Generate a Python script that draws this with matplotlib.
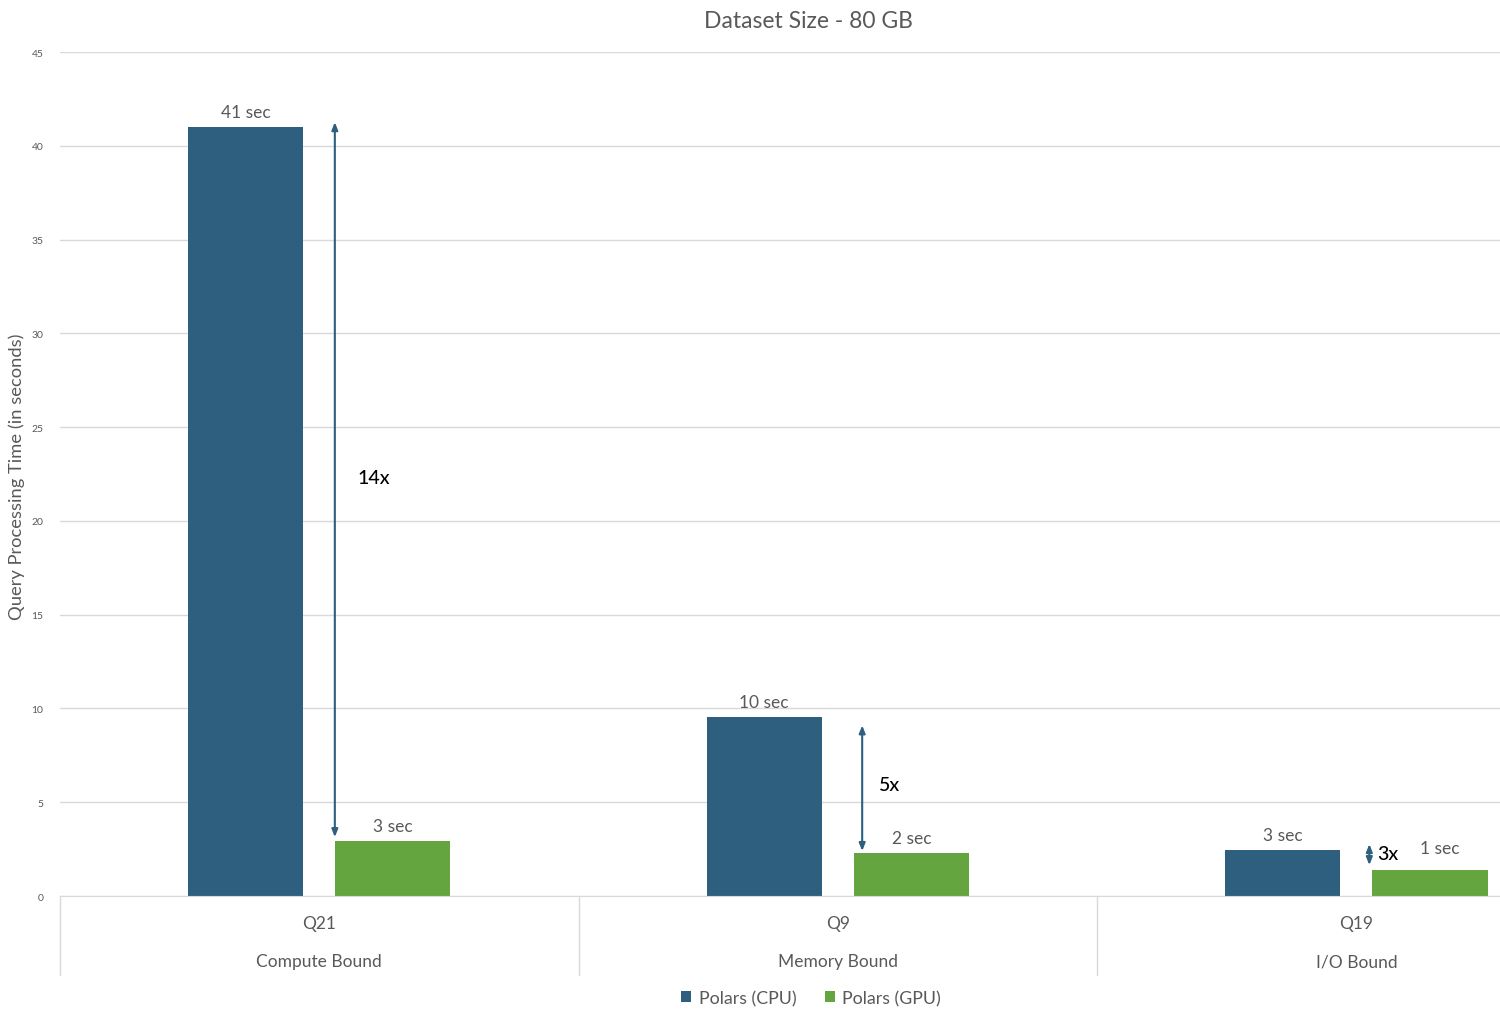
import matplotlib
matplotlib.use("Agg")
import matplotlib.pyplot as plt
import matplotlib.transforms as mtransforms
import numpy as np

plt.rcParams['font.family'] = ['Lato', 'DejaVu Sans']

queries = ["Q21", "Q9", "Q19"]
bound_types = ["Compute Bound", "Memory Bound", "I/O Bound"]
series_names = ["Polars (CPU)", "Polars (GPU)"]
cpu_times = [41, 9.55, 2.45]
gpu_times = [2.95, 2.3, 1.4]
cpu_labels = ["41 sec", "10 sec", "3 sec"]
gpu_labels = ["3 sec", "2 sec", "1 sec"]
speedups = ["14x", "5x", "3x"]
y_ticks = [0, 5, 10, 15, 20, 25, 30, 35, 40, 45]

CPU_COLOR = "#2E5F7E"
GPU_COLOR = "#64A540"
TEXT = "#595959"
GRID = "#D9D9D9"

fig = plt.figure(figsize=(15, 10.12), dpi=100)
ax = fig.add_axes([0.04, 0.1136, 0.96, 0.834])

x = np.arange(len(queries))
off = 0.142
w = 0.222
b1 = ax.bar(x - off, cpu_times, w, color=CPU_COLOR, label=series_names[0], zorder=3)
b2 = ax.bar(x + off, gpu_times, w, color=GPU_COLOR, label=series_names[1], zorder=3)

ax.set_xlim(-0.5, 2.277)
ax.set_ylim(0, 45)
ax.set_yticks(y_ticks)
ax.set_yticklabels([str(t) for t in y_ticks], fontsize=7.5, color=TEXT)
ax.tick_params(axis='y', length=0, pad=12)
ax.set_xticks([])
ax.yaxis.grid(True, color=GRID, lw=1, zorder=0)
for s in ["top", "right", "left"]:
    ax.spines[s].set_visible(False)
ax.spines["bottom"].set_color(GRID)
ax.spines["bottom"].set_zorder(4)

# category separators and labels
trans = mtransforms.blended_transform_factory(ax.transData, ax.transAxes)
for i in range(len(queries)):
    ax.plot([i - 0.5, i - 0.5], [0, -0.0936], transform=trans, color=GRID, lw=1, clip_on=False)
    ax.text(i, -0.032, queries[i], transform=trans, ha='center', va='center', fontsize=12.5, color=TEXT)
    ax.text(i, -0.077, bound_types[i], transform=trans, ha='center', va='center', fontsize=12.5, color=TEXT)

# data labels
for i in range(len(queries)):
    ax.annotate(cpu_labels[i], (x[i] - off, cpu_times[i]), xytext=(0, 5), textcoords='offset points',
                ha='center', va='bottom', fontsize=12.5, color=TEXT)
    dx, dy = (7, 10) if i == 2 else (0, 5)
    ax.annotate(gpu_labels[i], (x[i] + off, gpu_times[i]), xytext=(dx, dy), textcoords='offset points',
                ha='center', va='bottom', fontsize=12.5, color=TEXT)

# speedup arrows
arrow_x = [0.030, 1.047, 2.025]
arrow_top = [41.26, 9.1, 2.77]
arrow_bot = [3.14, 2.4, 1.65]
text_x = [0.073, 1.080, 2.040]
text_y = [22.3, 5.97, 2.29]
for i in range(len(queries)):
    ax.annotate("", xy=(arrow_x[i], arrow_top[i]), xytext=(arrow_x[i], arrow_bot[i]),
                arrowprops=dict(arrowstyle='<|-|>,head_length=0.45,head_width=0.18', color=CPU_COLOR, lw=1.5,
                                shrinkA=0, shrinkB=0), zorder=5)
    ax.text(text_x[i], text_y[i], speedups[i], ha='left', va='center', fontsize=14, color='black',
            fontweight='medium')

fig.text(808 / 1500, 1 - 21 / 1012, "Dataset Size - 80 GB", ha='center', va='center', fontsize=16.5, color=TEXT)
fig.text(17 / 1500, 1 - 477 / 1012, "Query Processing Time (in seconds)", rotation=90,
         ha='center', va='center', fontsize=13.2, color=TEXT)

fig.legend(handles=[b1, b2], labels=series_names, loc='center', bbox_to_anchor=(811 / 1500, 1 - 999 / 1012),
           ncol=2, frameon=False, handlelength=0.6, handleheight=0.6, handletextpad=0.4, columnspacing=1.6,
           fontsize=12.8, labelcolor=TEXT)

fig.savefig("out.png", dpi=100)
